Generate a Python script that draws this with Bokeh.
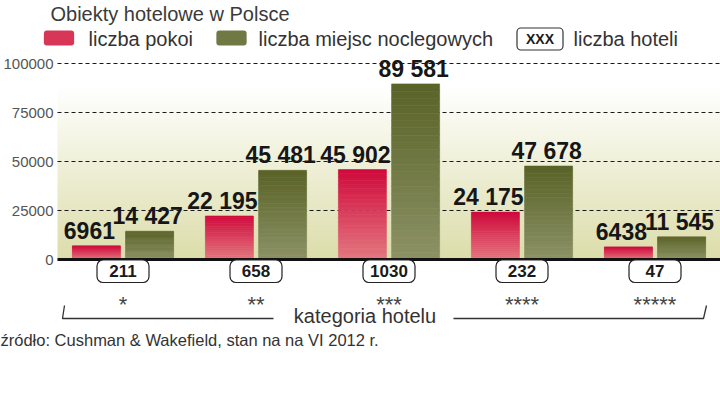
import numpy as np
from bokeh.plotting import figure
from bokeh.models import Range1d, Label, ColumnDataSource
from bokeh.core.properties import value
from bokeh.embed import file_html
from bokeh.resources import INLINE

# ---------------- data ----------------
categories = ["*", "**", "***", "****", "*****"]
rooms = [6961, 22195, 45902, 24175, 6438]            # liczba pokoi
beds = [14427, 45481, 89581, 47678, 11545]           # liczba miejsc noclegowych
hotels = [211, 658, 1030, 232, 47]                   # liczba hoteli
y_ticks = [0, 25000, 50000, 75000, 100000]
y_tick_labels = ["0", "25000", "50000", "75000", "100000"]

# ---------------- layout constants (pixels) ----------------
W, H = 720, 396
PX_PER_UNIT = 196 / 100000      # vertical scale
ZERO_Y = 259                    # px from top for value 0
GROUP_PX = 133                  # px between category centres
FIRST_CENTER = 122.5            # px of first category centre
PLOT_LEFT = 57                  # px where the plotting area starts
BASE_FIX = 7                    # alphabetic-baseline correction for labels

x_start = -FIRST_CENTER / GROUP_PX
x_end = (W - FIRST_CENTER) / GROUP_PX
y_end = ZERO_Y / PX_PER_UNIT
y_start = -(H - ZERO_Y) / PX_PER_UNIT


def dx(px):   # pixel x -> data x
    return (px - FIRST_CENTER) / GROUP_PX


def dy(py):   # pixel y -> data y
    return (ZERO_Y - py) / PX_PER_UNIT


def sy(py):   # pixel y (from top) -> screen units from bottom
    return H - py


def mix(c1, c2, t):
    return "#%02x%02x%02x" % tuple(int(round(a + (b - a) * t)) for a, b in zip(c1, c2))


def hexrgb(h):
    h = h.lstrip("#")
    return tuple(int(h[i:i + 2], 16) for i in (0, 2, 4))


RED_BOT, RED_TOP = hexrgb("#e47880"), hexrgb("#cf0a3c")
GRN_BOT, GRN_TOP = hexrgb("#8c9266"), hexrgb("#596227")
BG_BOT = hexrgb("#dcddaa")
TXT = "#333333"
FONT = "Liberation Sans"

p = figure(width=W, height=H, output_backend="svg", toolbar_location=None,
           x_range=Range1d(x_start, x_end), y_range=Range1d(y_start, y_end),
           x_axis_location=None, y_axis_location=None, min_border=0)
p.outline_line_color = None
p.background_fill_color = "white"
p.border_fill_color = "white"
p.grid.visible = False

# ---------------- background gradient ----------------
n_bg = 150
t = np.linspace(0, 1, n_bg)
img = np.empty((n_bg, 1), dtype=np.uint32)
view = img.view(dtype=np.uint8).reshape((n_bg, 1, 4))
for i, ch in enumerate(BG_BOT):
    view[:, 0, i] = np.round(ch + (255 - ch) * t).astype(np.uint8)
view[:, 0, 3] = 255
p.image_rgba(image=[img], x=dx(PLOT_LEFT), y=0, dw=x_end - dx(PLOT_LEFT), dh=dy(85), level="image")

# ---------------- y axis: grid lines and tick labels ----------------
grid_vals = y_ticks[1:]
p.segment(x0=[dx(PLOT_LEFT)] * len(grid_vals), x1=[x_end] * len(grid_vals), y0=grid_vals, y1=grid_vals,
          line_color="#1a1a1a", line_width=1, line_dash="4 3", level="underlay")
p.text(x=[dx(53)] * len(y_ticks), y=y_ticks, text=y_tick_labels, text_align="right",
       text_baseline="middle", text_font=value(FONT), text_font_size="15px", text_color="#555555")

# ---------------- bars with vertical gradient ----------------
idx = np.arange(len(categories))
OFF = 0.2
BAR_W = 48 / GROUP_PX
N_SL = 24


def grad_source(xs, vals, c_bot, c_top):
    d = dict(x=[], bottom=[], top=[], color=[])
    for x, v in zip(xs, vals):
        for k in range(N_SL):
            d["x"].append(float(x))
            d["bottom"].append(v * k / N_SL)
            d["top"].append(v * (k + 1) / N_SL)
            d["color"].append(mix(c_bot, c_top, (k + 0.5) / N_SL))
    return ColumnDataSource(d)


for xs, vals, cb, ct in ((idx - OFF, rooms, RED_BOT, RED_TOP), (idx + OFF, beds, GRN_BOT, GRN_TOP)):
    p.vbar(x="x", bottom="bottom", top="top", width=BAR_W, fill_color="color",
           line_color="color", line_width=0.6, source=grad_source(xs, vals, cb, ct))


def fmt(v):
    return f"{v:,}".replace(",", " ") if v >= 10000 else str(v)


p.text(x=idx - OFF, y=rooms, text=[fmt(v) for v in rooms], text_align="center",
       text_baseline="alphabetic", x_offset=-7, y_offset=-15, text_font=value(FONT),
       text_font_style="bold", text_font_size="23px", text_color="#161616")
p.text(x=idx + OFF, y=beds, text=[fmt(v) for v in beds], text_align="center",
       text_baseline="alphabetic", x_offset=-2, y_offset=-15, text_font=value(FONT),
       text_font_style="bold", text_font_size="23px", text_color="#161616")

# baseline
p.segment(x0=[dx(PLOT_LEFT)], x1=[x_end], y0=[0], y1=[0], line_color="#111111", line_width=3)

# hotel-count boxes
BOX_HALF = 26 / GROUP_PX
p.quad(left=idx - BOX_HALF, right=idx + BOX_HALF, top=[dy(259.5)] * len(idx),
       bottom=[dy(282)] * len(idx), fill_color="white", line_color="#222222",
       line_width=1.2, border_radius=6)
p.text(x=idx, y=[0] * len(idx), text=[str(h) for h in hotels], text_align="center",
       text_baseline="middle", y_offset=11, text_font=value(FONT), text_font_style="bold",
       text_font_size="17px", text_color="#1a1a1a")

# category stars
p.text(x=idx, y=[0] * len(idx), text=categories, text_align="center",
       text_baseline="alphabetic", y_offset=45, text_font=value(FONT),
       text_font_size="22px", text_color="#444444")

# bracket around category labels
p.line(x=[dx(64), dx(62), dx(273)], y=[dy(305), dy(318), dy(318)], line_color="#333333", line_width=1.3)
p.line(x=[dx(453), dx(703), dx(706)], y=[dy(318), dy(318), dy(305)], line_color="#333333", line_width=1.3)


# ---------------- texts & legend ----------------
def label(text, px, py, size, color=TXT, align="left", baseline="alphabetic", style="normal", **kw):
    if baseline == "alphabetic":
        py -= BASE_FIX
    p.add_layout(Label(x=px, y=sy(py), x_units="screen", y_units="screen", text=text,
                       text_font=FONT, text_font_size=size, text_color=color,
                       text_align=align, text_baseline=baseline, text_font_style=style, **kw))


label("Obiekty hotelowe w Polsce", 50, 20, "20px", color="#3a3a3a")
# swatches
label(" ", 58.5, 37.5, "1px", align="center", baseline="middle",
      background_fill_color=mix(RED_BOT, RED_TOP, 0.6), padding=dict(x=15, y=7), border_radius=3)
label("liczba pokoi", 88, 45, "20px")
label(" ", 231, 37.5, "1px", align="center", baseline="middle",
      background_fill_color=mix(GRN_BOT, GRN_TOP, 0.55), padding=dict(x=15, y=7), border_radius=3)
label("liczba miejsc noclegowych", 258, 45, "20px")
label("XXX", 539.5, 38.5, "14px", color="#1a1a1a", align="center", baseline="middle", style="bold",
      background_fill_color="white", border_line_color="#333333", border_line_width=1.2,
      padding=dict(x=9, y=3), border_radius=4)
label("liczba hoteli", 573, 45, "20px")

label("kategoria hotelu", 364.5, 322, "20px", align="center")
label("źródło: Cushman & Wakefield, stan na  na VI 2012 r.", 0, 346, "16.5px")

open("out.html", "w").write(file_html(p, INLINE))
